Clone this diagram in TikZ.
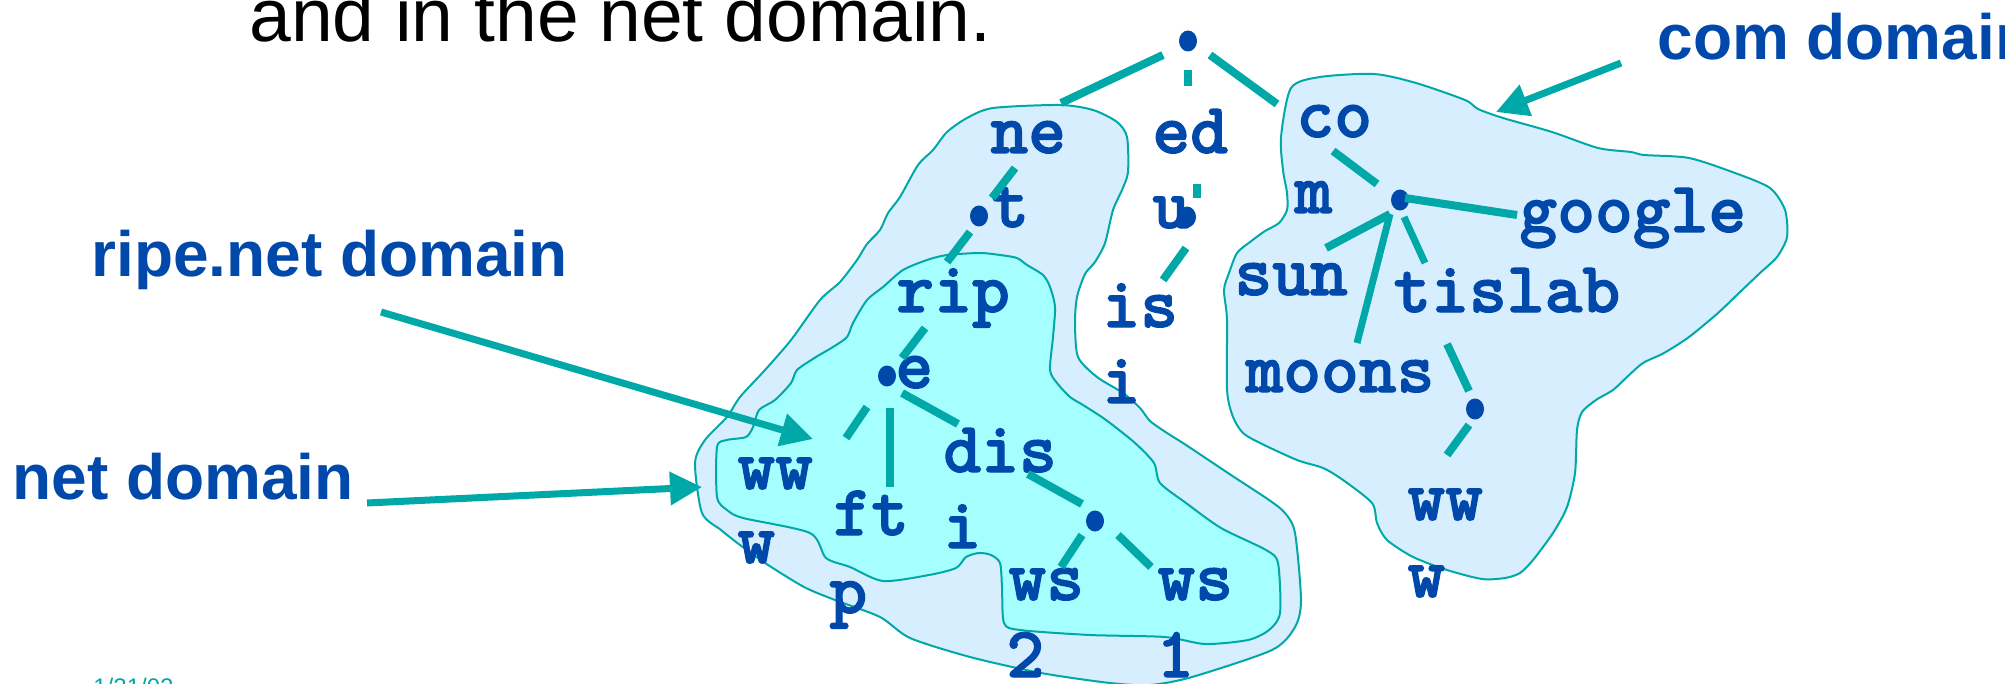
\documentclass[tikz,border=0pt]{standalone}
\usepackage{fontspec}
\newfontfamily\helv{Liberation Sans}
\newfontfamily\typebold{lmmonolt10-bold.otf}[FakeBold=1.6]
\usetikzlibrary{arrows.meta,shapes.geometric}
\definecolor{zonefill}{RGB}{214,238,253}
\definecolor{subzonefill}{RGB}{166,255,255}
\definecolor{teal}{RGB}{0,168,168}
\definecolor{dnsblue}{RGB}{0,72,170}
\begin{document}
\begin{tikzpicture}[x=0.5pt,y=-0.5pt,
  lbl/.style={font=\typebold\fontsize{36}{36}\selectfont, text=dnsblue, inner sep=0pt, anchor=base west},
  callout/.style={font=\helv\bfseries\fontsize{32}{32}\selectfont, text=dnsblue, inner sep=0pt, anchor=base west},
  blob/.style={draw=teal, line width=1pt},
  edge/.style={draw=teal, line width=4pt},
  pointer/.style={draw=teal, line width=3.5pt, -{Triangle[length=16pt,width=16pt]}},
  dot/.style={ellipse, fill=dnsblue, inner sep=0pt, minimum width=9pt, minimum height=10.5pt}
]
\useasboundingbox (0,0) rectangle (2005,684);
\clip (0,0) rectangle (2005,684);

% zones
\path[blob, fill=zonefill] plot[smooth cycle, tension=0.45] coordinates {
 (967,118) (993,108) (1060,105) (1093,110) (1117,122) (1127,137) (1128,172) (1122,190)
 (1113,210) (1105,243) (1095,262) (1085,274) (1077,297) (1075,323) (1078,357) (1097,377)
 (1123,393) (1140,408) (1150,421) (1167,433) (1186,445) (1231,475) (1269,500) (1285,513)
 (1295,533) (1301,600) (1295,627) (1272,650) (1192,677) (1150,685) (1110,683) (1041,673)
 (970,657) (910,638) (880,617) (835,600) (804,587) (765,563) (740,545) (721,530) (702,513)
 (695,463) (705,440) (727,417) (740,397) (765,370) (791,340) (820,300) (840,282) (857,260)
 (867,244) (880,230) (888,213) (900,197) (918,165) (933,150) (947,132)};
\path[blob, fill=subzonefill] plot[smooth cycle, tension=0.45] coordinates {
 (903,270) (927,260) (947,255) (980,253) (1000,255) (1017,258) (1027,265) (1043,275)
 (1050,287) (1055,307) (1053,337) (1050,370) (1057,383) (1070,397) (1083,405) (1106,420)
 (1135,443) (1154,463) (1160,483) (1186,503) (1221,528) (1266,550) (1278,563) (1280,613)
 (1269,630) (1248,640) (1205,644) (1165,637) (1090,635) (1020,630) (1004,623) (1002,587)
 (1000,563) (991,555) (979,553) (966,557) (956,568) (929,575) (883,581) (850,567) (826,558)
 (810,533) (743,518) (727,510) (717,497) (717,447) (727,440) (746,437) (753,427) (759,410)
 (775,400) (791,383) (797,370) (816,357) (833,347) (847,337) (853,323) (867,300) (883,287)};
\path[blob, fill=zonefill] plot[smooth cycle, tension=0.45] coordinates {
 (1291,88) (1320,77) (1374,74) (1416,83) (1465,100) (1478,109) (1503,118) (1552,132)
 (1598,148) (1631,152) (1644,155) (1689,158) (1735,173) (1770,188) (1785,210) (1787,237)
 (1777,257) (1760,273) (1739,293) (1718,313) (1689,337) (1664,353) (1643,363) (1627,377)
 (1613,390) (1596,400) (1582,412) (1577,430) (1575,473) (1567,507) (1553,533) (1533,560)
 (1520,573) (1505,578) (1482,579) (1447,570) (1413,557) (1387,540) (1377,523) (1372,503)
 (1343,480) (1323,468) (1297,460) (1260,443) (1243,433) (1233,417) (1227,390) (1227,320)
 (1224,290) (1229,273) (1237,253) (1250,242) (1265,231) (1279,223) (1287,210) (1287,193)
 (1283,170) (1281,137)};

% heading and captions
\node[anchor=base west, inner sep=0pt, font=\helv\fontsize{37.5}{37.5}\selectfont] (heading) at (249,42) {and in the net domain.};
\node[callout] (ripecap) at (91,276) {ripe.net domain};
\node[callout] (netcap) at (12,499) {net domain};
\node[callout] (comcap) at (1657,60) {com domain};
\node[anchor=base west, inner sep=0pt, text=teal, font=\helv\fontsize{12}{12}\selectfont] (date) at (93,695) {1/21/02};

% tree nodes
\node[dot] (root) at (1188,41) {};
\node[dot] (dnet) at (979,216) {};
\node[dot] (dripe) at (887,376) {};
\node[dot] (ddis) at (1095,521) {};
\node[dot] (dedu) at (1187,217) {};
\node[dot] (dcom) at (1400,200) {};
\node[dot] (dtis) at (1475,409) {};

\node[lbl] (ne) at (990,153) {ne};
\node[lbl] (t) at (991,227) {t};
\node[lbl] (rip) at (896,312) {rip};
\node[lbl] (e) at (895,388) {e};
\node[lbl] (ww1) at (737,489) {ww};
\node[lbl] (w1) at (737,563) {w};
\node[lbl] (ft) at (833,535) {ft};
\node[lbl] (p) at (829,613) {p};
\node[lbl] (dis) at (943,472) {dis};
\node[lbl] (i1) at (943,548) {i};
\node[lbl] (ws2) at (1008,600) {ws};
\node[lbl] (two) at (1006,677) {2};
\node[lbl] (ws1) at (1157,600) {ws};
\node[lbl] (one) at (1156,677) {1};
\node[lbl] (ed) at (1152,153) {ed};
\node[lbl] (u) at (1152,228) {u};
\node[lbl] (is) at (1102,327) {is};
\node[lbl] (i2) at (1102,403) {i};
\node[lbl] (co) at (1296,137) {co};
\node[lbl] (m) at (1294,213) {m};
\node[lbl] (google) at (1519,232) {google};
\node[lbl] (sun) at (1234,295) {sun};
\node[lbl] (tislab) at (1393,312) {tislab};
\node[lbl] (moons) at (1245,392) {moons};
\node[lbl] (ww2) at (1407,520) {ww};
\node[lbl] (w2) at (1407,597) {w};

% connector end points
\coordinate (rn1) at (1163,55);  \coordinate (rn2) at (1061,103);
\coordinate (re1) at (1188,70);  \coordinate (re2) at (1188,86);
\coordinate (rc1) at (1210,55);  \coordinate (rc2) at (1277,104);
\coordinate (nd1) at (1015,168); \coordinate (nd2) at (992,198);
\coordinate (dr1) at (970,232);  \coordinate (dr2) at (947,262);
\coordinate (re3) at (925,328);  \coordinate (re4) at (902,358);
\coordinate (pw1) at (867,407);  \coordinate (pw2) at (846,438);
\coordinate (pf1) at (890,408);  \coordinate (pf2) at (890,487);
\coordinate (pd1) at (902,393);  \coordinate (pd2) at (958,424);
\coordinate (dd1) at (1028,474); \coordinate (dd2) at (1082,504);
\coordinate (da1) at (1082,535); \coordinate (da2) at (1061,567);
\coordinate (db1) at (1118,535); \coordinate (db2) at (1151,567);
\coordinate (eu1) at (1197,184); \coordinate (eu2) at (1197,198);
\coordinate (ui1) at (1186,248); \coordinate (ui2) at (1163,280);
\coordinate (cc1) at (1333,151); \coordinate (cc2) at (1377,184);
\coordinate (cg1) at (1405,198); \coordinate (cg2) at (1517,215);
\coordinate (cs1) at (1390,214); \coordinate (cs2) at (1326,248);
\coordinate (cm1) at (1390,214); \coordinate (cm2) at (1357,343);
\coordinate (ct1) at (1404,217); \coordinate (ct2) at (1425,263);
\coordinate (td1) at (1447,344); \coordinate (td2) at (1469,391);
\coordinate (tw1) at (1469,425); \coordinate (tw2) at (1447,455);

% tree edges
\draw[edge] (rn1) -- (rn2);
\draw[edge] (re1) -- (re2);
\draw[edge] (rc1) -- (rc2);
\draw[edge] (nd1) -- (nd2);
\draw[edge] (dr1) -- (dr2);
\draw[edge] (re3) -- (re4);
\draw[edge] (pw1) -- (pw2);
\draw[edge] (pf1) -- (pf2);
\draw[edge] (pd1) -- (pd2);
\draw[edge] (dd1) -- (dd2);
\draw[edge] (da1) -- (da2);
\draw[edge] (db1) -- (db2);
\draw[edge] (eu1) -- (eu2);
\draw[edge] (ui1) -- (ui2);
\draw[edge] (cc1) -- (cc2);
\draw[edge] (cg1) -- (cg2);
\draw[edge] (cs1) -- (cs2);
\draw[edge, line width=3.5pt] (cm1) -- (cm2);
\draw[edge, line width=3.5pt] (ct1) -- (ct2);
\draw[edge] (td1) -- (td2);
\draw[edge] (tw1) -- (tw2);

% caption pointers
\coordinate (ripefrom) at (381,312); \coordinate (ripeto) at (813,439);
\coordinate (netfrom) at (367,503);  \coordinate (netto) at (702,487);
\coordinate (comfrom) at (1621,63);  \coordinate (comto) at (1496,112);
\draw[pointer] (ripefrom) -- (ripeto);
\draw[pointer] (netfrom) -- (netto);
\draw[pointer] (comfrom) -- (comto);
\end{tikzpicture}
\end{document}
